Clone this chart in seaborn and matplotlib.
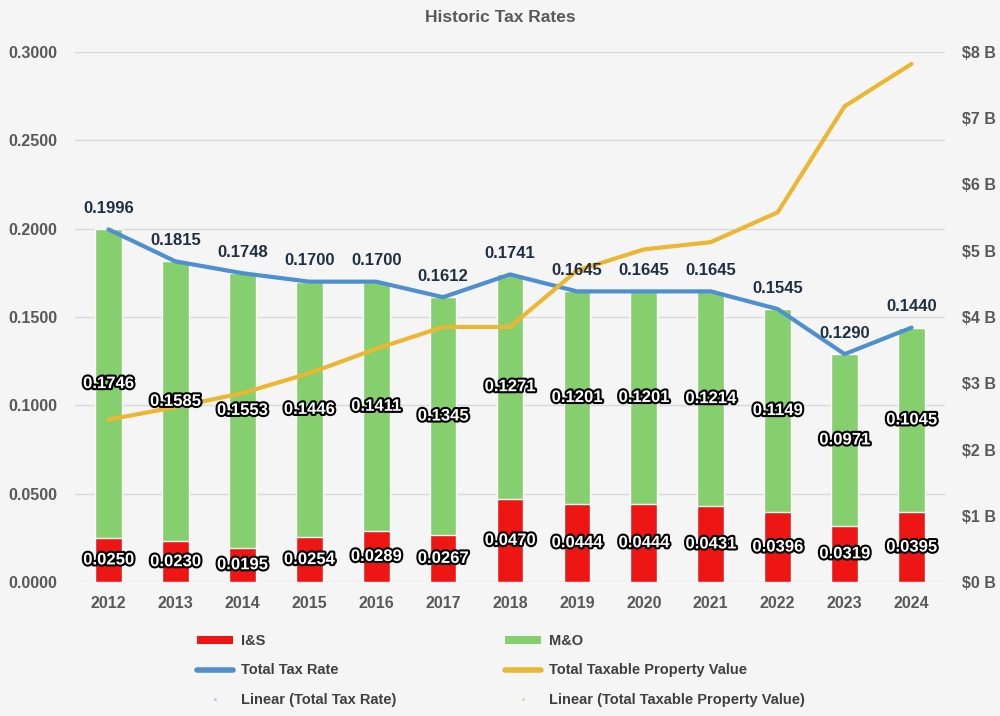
import numpy as np
import pandas as pd
import matplotlib
matplotlib.use("Agg")
import matplotlib.pyplot as plt
import matplotlib.patheffects as pe
from matplotlib.patches import Patch
from matplotlib.lines import Line2D
import seaborn as sns

years = ["2012", "2013", "2014", "2015", "2016", "2017", "2018",
         "2019", "2020", "2021", "2022", "2023", "2024"]
i_s = [0.0250, 0.0230, 0.0195, 0.0254, 0.0289, 0.0267, 0.0470,
       0.0444, 0.0444, 0.0431, 0.0396, 0.0319, 0.0395]
m_o = [0.1746, 0.1585, 0.1553, 0.1446, 0.1411, 0.1345, 0.1271,
       0.1201, 0.1201, 0.1214, 0.1149, 0.0971, 0.1045]
total_rate = [0.1996, 0.1815, 0.1748, 0.1700, 0.1700, 0.1612, 0.1741,
              0.1645, 0.1645, 0.1645, 0.1545, 0.1290, 0.1440]
property_value_b = [2.45, 2.64, 2.85, 3.15, 3.52, 3.85, 3.85,
                    4.70, 5.02, 5.13, 5.58, 7.18, 7.82]

left_ticks = [0.0, 0.05, 0.10, 0.15, 0.20, 0.25, 0.30]
right_ticks = [0, 1, 2, 3, 4, 5, 6, 7, 8]

RED = "#ee1515"
GREEN = "#85cf6e"
BLUE = "#4f8fcf"
ORANGE = "#ebb732"
BG = "#f5f5f5"
GRID = "#d9d9d9"
TICKC = "#595959"
LABELC = "#1f2f40"

sns.set_theme(style="white")
plt.rcParams["font.family"] = ["Liberation Sans", "DejaVu Sans"]

df = pd.DataFrame({"year": years, "i_s": i_s, "m_o": m_o,
                   "stack": np.array(i_s) + np.array(m_o),
                   "total": total_rate, "prop": property_value_b})
idx = np.arange(len(years))

fig = plt.figure(figsize=(10, 7.16), dpi=100, facecolor=BG)
ax = fig.add_axes([0.075, 1 - 582 / 716, 0.87, 530 / 716])
ax.set_facecolor(BG)

sns.barplot(data=df, x="year", y="stack", color=GREEN, width=0.4,
            saturation=1, ax=ax, zorder=2)
sns.barplot(data=df, x="year", y="i_s", color=RED, width=0.4,
            saturation=1, ax=ax, zorder=3)
sns.lineplot(x=idx, y=df["total"], color=BLUE, linewidth=3, ax=ax,
             zorder=4, legend=False)

ax.set_xlim(-0.5, len(years) - 0.5)
ax.set_ylim(0, 0.30)
ax.set_yticks(left_ticks)
ax.set_yticklabels([f"{t:.4f}" for t in left_ticks])
ax.yaxis.grid(True, color=GRID, linewidth=1, zorder=0)
ax.set_axisbelow(True)
ax.set_xlabel("")
ax.set_ylabel("")
for s in ax.spines.values():
    s.set_visible(False)
ax.tick_params(axis="both", length=0, labelsize=11.5, labelcolor=TICKC)
ax.tick_params(axis="y", pad=12.5)
ax.tick_params(axis="x", pad=10)
for lab in ax.get_xticklabels() + ax.get_yticklabels():
    lab.set_fontweight("bold")

ax2 = ax.twinx()
sns.lineplot(x=idx, y=df["prop"], color=ORANGE, linewidth=3, ax=ax2,
             legend=False)
ax2.set_ylim(0, 8)
ax2.set_yticks(right_ticks)
ax2.set_yticklabels([f"${t} B" for t in right_ticks])
ax2.set_ylabel("")
for s in ax2.spines.values():
    s.set_visible(False)
ax2.tick_params(axis="y", length=0, labelsize=11.5, labelcolor=TICKC, pad=12)
for lab in ax2.get_yticklabels():
    lab.set_fontweight("bold")
ax2.grid(False)

# bar segment labels (white text with black outline), drawn on top
stroke = [pe.withStroke(linewidth=3, foreground="black")]
for i in idx:
    ax2.text(i, i_s[i] / 2, f"{i_s[i]:.4f}", transform=ax.transData,
             ha="center", va="center", color="white", fontsize=12,
             fontweight="bold", path_effects=stroke, zorder=6)
    ax2.text(i, i_s[i] + m_o[i] / 2, f"{m_o[i]:.4f}", transform=ax.transData,
             ha="center", va="center", color="white", fontsize=12,
             fontweight="bold", path_effects=stroke, zorder=6)
    ax2.annotate(f"{total_rate[i]:.4f}", xy=(i, total_rate[i]),
                 xycoords=ax.transData, xytext=(0, 15),
                 textcoords="offset points", ha="center", va="center",
                 color=LABELC, fontsize=12, fontweight="bold", zorder=6)

fig.text(0.5, 1 - 18 / 716, "Historic Tax Rates", ha="center", va="center",
         fontsize=12.5, fontweight="bold", color=TICKC)

# legend in two columns
h1 = [Patch(facecolor=RED, edgecolor="none"),
      Line2D([], [], color=BLUE, linewidth=4),
      Line2D([], [], color="#a9c8e8", marker=".", markersize=2, linestyle="none")]
l1 = ["I&S", "Total Tax Rate", "Linear (Total Tax Rate)"]
h2 = [Patch(facecolor=GREEN, edgecolor="none"),
      Line2D([], [], color=ORANGE, linewidth=4),
      Line2D([], [], color="#d8cfa8", marker=".", markersize=2, linestyle="none")]
l2 = ["M&O", "Total Taxable Property Value", "Linear (Total Taxable Property Value)"]
legprops = dict(loc="upper left", frameon=False, handlelength=2.5,
                handletextpad=0.55, labelspacing=1.05, borderpad=0,
                borderaxespad=0, handleheight=0.5,
                prop={"weight": "bold", "size": 10.5})
for handles, labels, x0 in [(h1, l1, 197), (h2, l2, 505)]:
    leg = fig.legend(handles, labels, bbox_to_anchor=(x0 / 1000, 1 - 634 / 716),
                     **legprops)
    for t in leg.get_texts():
        t.set_color("#404040")

fig.savefig("out.png", dpi=100, facecolor=BG)
